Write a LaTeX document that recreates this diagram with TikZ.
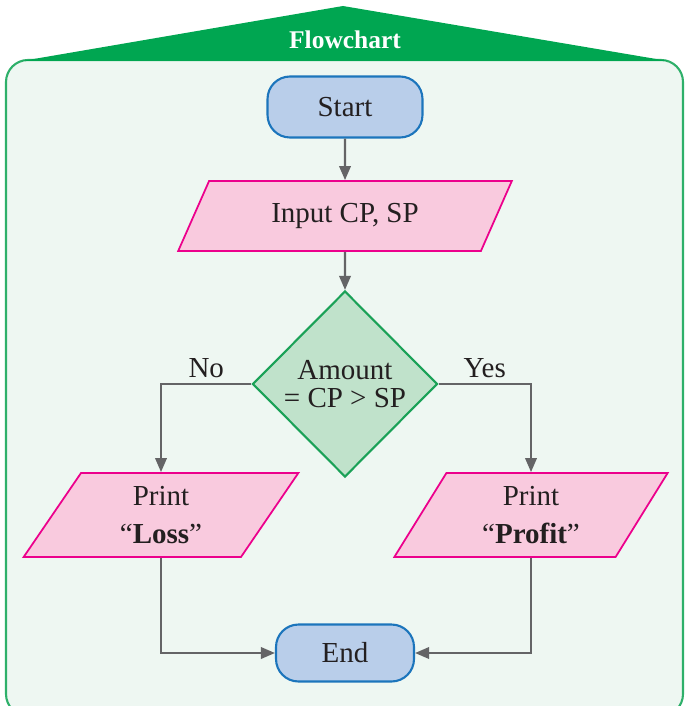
\documentclass[tikz,border=0pt]{standalone}
\usepackage{fontspec}
\setmainfont{Liberation Serif}
\usepackage{xcolor}
\usetikzlibrary{arrows.meta, shapes.geometric}
\definecolor{hdrgreen}{RGB}{0, 166, 81}
\definecolor{panelbg}{RGB}{238, 247, 242}
\definecolor{panelline}{RGB}{46, 176, 106}
\definecolor{termbg}{RGB}{185, 206, 234}
\definecolor{termline}{RGB}{28, 117, 188}
\definecolor{iobg}{RGB}{249, 202, 222}
\definecolor{ioline}{RGB}{236, 0, 140}
\definecolor{decbg}{RGB}{192, 226, 203}
\definecolor{decline}{RGB}{26, 161, 87}
\definecolor{flowgray}{RGB}{100, 100, 102}
\definecolor{ink}{RGB}{35, 31, 32}

\begin{document}
\begin{tikzpicture}[
  x=0.02cm, y=-0.02cm,
  every node/.style={font=\fontsize{16.5}{16}\selectfont, text=ink},
  terminal/.style={rectangle,rounded corners=0.45cm,draw=termline,fill=termbg,line width=1.2pt},
  io/.style={trapezium,trapezium left angle=64,trapezium right angle=116,trapezium stretches=true,
             draw=ioline,fill=iobg,line width=1pt,align=center,font=\fontsize{16.5}{21.5}\selectfont},
  decision/.style={diamond,aspect=1,draw=decline,fill=decbg,line width=1.2pt,align=center,inner sep=0pt,
                   minimum width=3.7cm,minimum height=3.72cm},
  flow/.style={->,draw=flowgray,line width=1.3pt},
  >={Triangle[length=8pt,width=6.5pt]}
]
  \clip (0,0) rectangle (686,706);
  % Panel and header
  \draw[fill=panelbg,draw=panelline,line width=1.2pt,rounded corners=0.44cm] (6,60) rectangle (683,716);
  \fill[hdrgreen] (22,61) -- (343,6) -- (668,61) -- cycle;
  \node[font=\fontsize{14.5}{14}\selectfont\bfseries, text=white] (title) at (345,40) {Flowchart};

  % Steps
  \node[terminal,minimum width=3.1cm,minimum height=1.22cm] (start) at (345,107) {Start};
  \node[io,minimum width=6.68cm,minimum height=1.4cm]       (input) at (345,216) {Input CP, SP};
  \node[decision] (dec) at (345,384) {Amount\\= CP > SP};
  \node[io,minimum width=5.5cm,minimum height=1.68cm] (loss)   at (161,515) {Print\\“\textbf{Loss}”};
  \node[io,minimum width=5.5cm,minimum height=1.68cm] (profit) at (531,515) {Print\\“\textbf{Profit}”};
  \node[terminal,minimum width=2.76cm,minimum height=1.14cm] (end) at (345,653) {End};

  % Connectors
  \draw[flow] (start) -- (input);
  \draw[flow] (input) -- (dec);
  \draw[flow] (dec.west) -| node[pos=0.25,above,inner sep=3pt] {No} (loss.north);
  \draw[flow] (dec.east) -| node[pos=0.25,above,inner sep=3pt] {Yes} (profit.north);
  \draw[flow] (loss.south) |- (end.west);
  \draw[flow] (profit.south) |- (end.east);
\end{tikzpicture}
\end{document}
